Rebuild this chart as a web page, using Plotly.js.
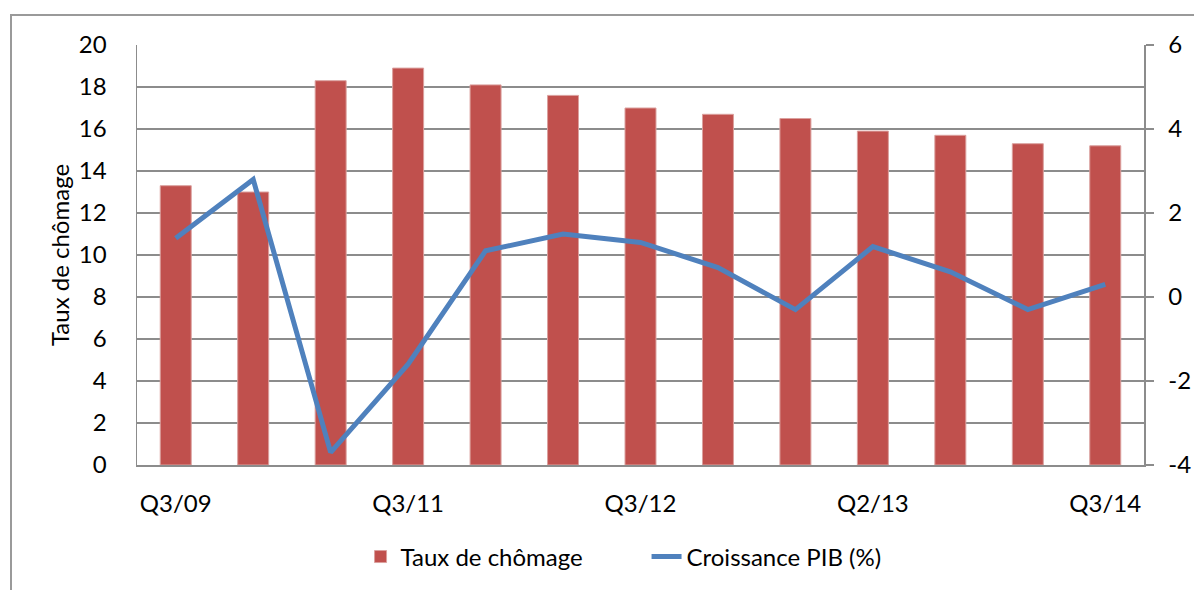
<!DOCTYPE html>
<html>
<head>
<meta charset="utf-8">
<script src="https://cdn.plot.ly/plotly-3.0.1.min.js"></script>
<style>
  html, body { margin: 0; padding: 0; background: #fff; overflow: hidden; }
  #wrap { position: relative; width: 1194px; height: 590px; }
  #chart { position: absolute; left: 0; top: 0; width: 1194px; height: 590px; }
  #frame { position: absolute; left: 10px; top: 14px; width: 1300px; height: 700px;
           border-left: 2px solid #9a9a9a; border-top: 2px solid #9a9a9a; pointer-events: none; }
</style>
</head>
<body>
<div id="wrap">
  <div id="chart"></div>
  <div id="frame"></div>
</div>
<script>
// Quarters (only every third label is shown on the axis)
const quarters = ['Q3/09','Q1/10','Q3/10','Q3/11','Q4/11','Q1/12','Q3/12','Q4/12','Q1/13','Q2/13','Q4/13','Q2/14','Q3/14'];
const shownTicks = ['Q3/09','Q3/11','Q3/12','Q2/13','Q3/14'];
// Taux de chômage (%), left axis
const chomage = [13.3, 13.0, 18.3, 18.9, 18.1, 17.6, 17.0, 16.7, 16.5, 15.9, 15.7, 15.3, 15.2];
// Croissance PIB (%), right axis
const croissance = [1.4, 2.8, -3.7, -1.6, 1.1, 1.5, 1.3, 0.7, -0.3, 1.2, 0.6, -0.3, 0.3];
// Right axis tick values
const rightTicks = [-4, -2, 0, 2, 4, 6];

const FONT = 'Lato, "Open Sans", "DejaVu Sans", sans-serif';
const FS = 24;
const GRID = '#8c8c8c';

const traces = [
  {
    type: 'bar', name: 'Taux de chômage', x: quarters, y: chomage,
    marker: { color: '#C0504D', line: { color: '#dba09e', width: 1 } },
    yaxis: 'y', hoverinfo: 'x+y'
  },
  {
    type: 'scatter', mode: 'lines', name: 'Croissance PIB (%)', x: quarters, y: croissance,
    line: { color: '#4F81BD', width: 5 },
    yaxis: 'y2', hoverinfo: 'x+y'
  }
];

const layout = {
  width: 1194, height: 590,
  margin: { l: 137, r: 50, t: 45, b: 124 },
  paper_bgcolor: 'rgba(0,0,0,0)', plot_bgcolor: '#fff',
  font: { family: FONT, size: FS, color: '#000' },
  bargap: 0.6,
  showlegend: true,
  legend: {
    orientation: 'h', x: 0.222, xanchor: 'left', y: -0.216, yanchor: 'middle',
    font: { family: FONT, size: FS, color: '#000' },
    entrywidth: 241, bgcolor: 'rgba(0,0,0,0)'
  },
  xaxis: {
    type: 'category', tickmode: 'array', tickvals: shownTicks, ticktext: shownTicks,
    showline: true, linecolor: GRID, linewidth: 1.5, ticks: '', showgrid: false,
    ticklabelstandoff: 17, automargin: false,
    tickfont: { family: FONT, size: FS, color: '#000' }
  },
  yaxis: {
    range: [0, 20], dtick: 2, tick0: 0,
    showline: true, linecolor: GRID, linewidth: 1.5,
    showgrid: true, gridcolor: GRID, gridwidth: 1.5, zeroline: false,
    ticks: '', ticklabelstandoff: 24, automargin: false,
    tickfont: { family: FONT, size: FS, color: '#000' },
    title: { text: 'Taux de chômage', standoff: 2, font: { family: FONT, size: FS, color: '#000' } }
  },
  yaxis2: {
    overlaying: 'y', side: 'right', range: [-4, 6],
    tickmode: 'array', tickvals: rightTicks, ticktext: rightTicks.map(v => String(v)),
    showline: true, linecolor: GRID, linewidth: 1.5, showgrid: false, zeroline: false,
    ticks: 'outside', ticklen: 8, tickcolor: GRID, tickwidth: 1.5,
    ticklabelstandoff: 10, automargin: false,
    tickfont: { family: FONT, size: FS, color: '#000' }
  }
};

Plotly.newPlot('chart', traces, layout, { displayModeBar: false, staticPlot: true });
</script>
</body>
</html>
